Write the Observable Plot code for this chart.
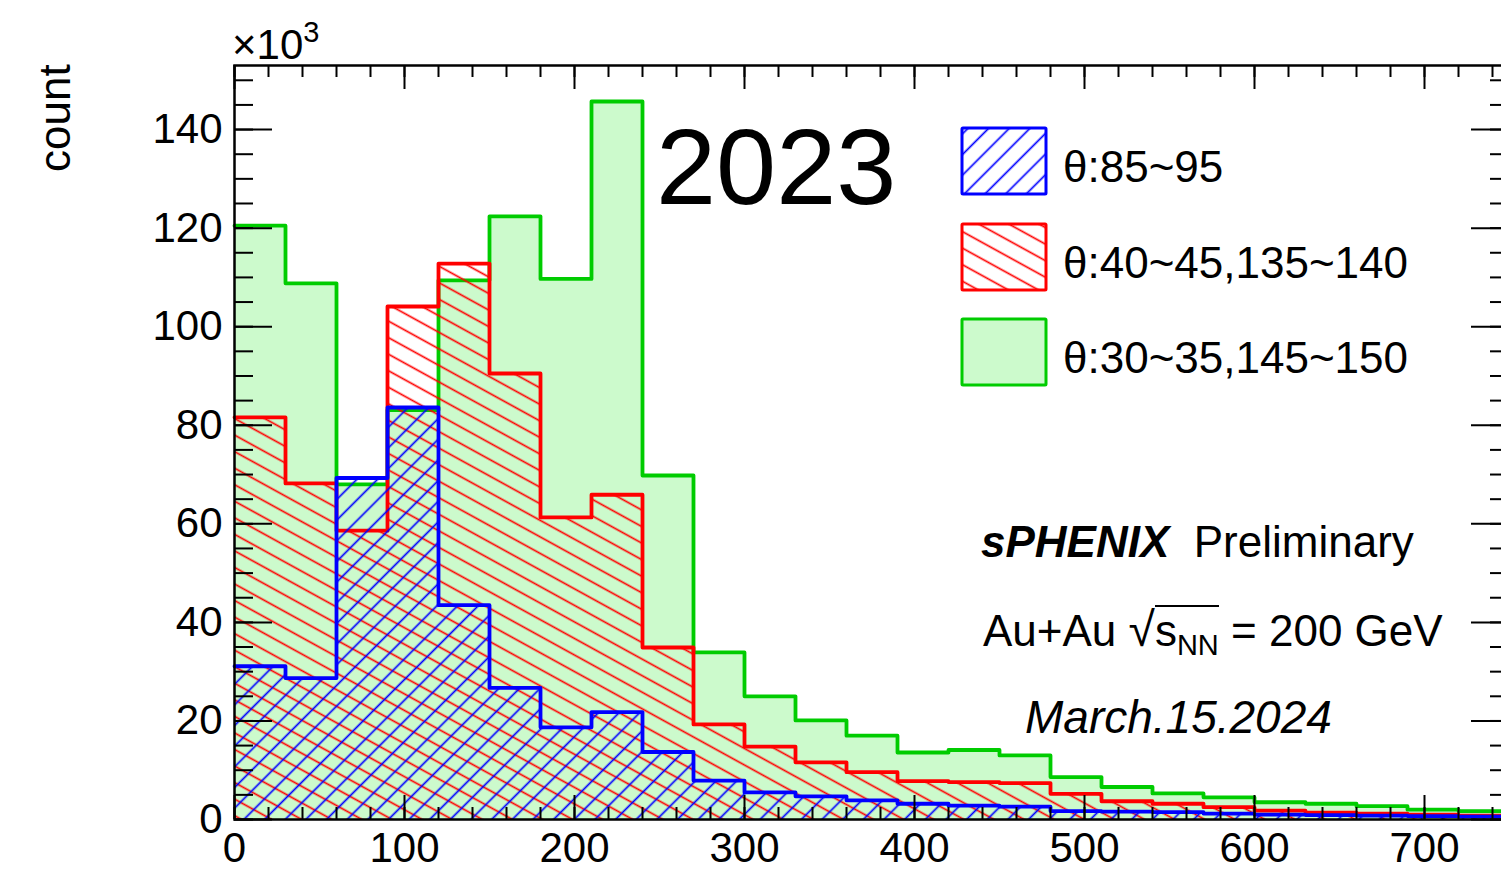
<!DOCTYPE html>
<html>
<head>
<meta charset="utf-8">
<script src="https://cdn.jsdelivr.net/npm/d3@7"></script>
<script src="https://cdn.jsdelivr.net/npm/@observablehq/plot@0.6"></script>
<style>
  html, body { margin: 0; padding: 0; background: #fff; overflow: hidden; }
  #wrap { position: relative; width: 1501px; height: 874px; overflow: hidden;
          font-family: "Liberation Sans", Arial, Helvetica, sans-serif; color: #000; }
  #wrap svg.plot { position: absolute; left: 0; top: 0; max-width: none !important; }
  .ann { position: absolute; white-space: nowrap; line-height: 1; }
  .sw { position: absolute; }
</style>
</head>
<body>
<div id="wrap"></div>
<script>
// Histogram bin edges (x) and counts per bin, in units of 10^3
const binEdges = [0, 30, 60, 90, 120, 150, 180, 210, 240, 270, 300, 330, 360,
                  390, 420, 450, 480, 510, 540, 570, 600, 630, 660, 690, 720, 750];

// θ:30~35,145~150
const countsGreen = [120.5, 108.8, 68.0, 83.1, 109.4, 122.4, 109.7, 145.7, 69.8, 33.9,
                     25.0, 20.1, 17.0, 13.6, 14.1, 13.0, 8.6, 6.6, 5.3, 4.5,
                     3.5, 3.2, 2.7, 2.0, 1.7];
// θ:40~45,135~140
const countsRed = [81.6, 68.2, 58.6, 104.1, 112.8, 90.5, 61.3, 65.9, 34.9, 19.3,
                   14.8, 11.6, 9.6, 7.8, 7.6, 7.4, 5.2, 3.7, 3.2, 2.5,
                   1.8, 1.4, 1.2, 1.0, 0.8];
// θ:85~95
const countsBlue = [31.1, 28.7, 69.3, 83.6, 43.5, 26.7, 18.7, 21.8, 13.7, 7.9,
                    5.5, 4.7, 3.9, 3.2, 2.8, 2.6, 1.7, 1.6, 1.5, 1.2,
                    1.0, 0.9, 0.8, 0.7, 0.6];

const seriesLabels = ["θ:85~95", "θ:40~45,135~140", "θ:30~35,145~150"];

// Axis ticks
const xMajor = [0, 100, 200, 300, 400, 500, 600, 700];
const xMinor = d3.range(0, 751, 20);
const yMajor = [0, 20, 40, 60, 80, 100, 120, 140];
const yMinor = d3.range(0, 153, 5);

// Colours
const GREEN_LINE = "#00cc00", GREEN_FILL = "#ccfacc";
const RED = "#ff0000", BLUE = "#0000ff";

// Layout
const W = 1520, H = 874, mL = 234, mR = 11, mT = 65, mB = 55;
const innerW = W - mL - mR, innerH = H - mT - mB;
const FONT = '"Liberation Sans", Arial, Helvetica, sans-serif';

const bars = (vals) => vals.map((v, i) => ({x1: binEdges[i], x2: binEdges[i + 1], v}));
const outline = (vals) => binEdges.map((e, i) => ({x: e, v: vals[Math.min(i, vals.length - 1)]}));

const tickStyle = {stroke: "#000", strokeWidth: 2};

const chart = Plot.plot({
  width: W, height: H,
  marginLeft: mL, marginRight: mR, marginTop: mT, marginBottom: mB,
  style: {fontFamily: FONT, background: "transparent", color: "#000", maxWidth: "none"},
  x: {domain: [0, 750]},
  y: {domain: [0, 153]},
  marks: [
    // θ:30~35,145~150 — solid light-green fill
    Plot.rectY(bars(countsGreen), {x1: "x1", x2: "x2", y: "v", inset: 0, fill: GREEN_FILL}),
    Plot.line(outline(countsGreen), {x: "x", y: "v", curve: "step-after", stroke: GREEN_LINE, strokeWidth: 3.8}),
    // θ:40~45,135~140 — red "\" hatch
    Plot.rectY(bars(countsRed), {x1: "x1", x2: "x2", y: "v", inset: 0, fill: "url(#hatchRed)"}),
    Plot.line(outline(countsRed), {x: "x", y: "v", curve: "step-after", stroke: RED, strokeWidth: 3.8}),
    // θ:85~95 — blue "/" hatch
    Plot.rectY(bars(countsBlue), {x1: "x1", x2: "x2", y: "v", inset: 0, fill: "url(#hatchBlue)"}),
    Plot.line(outline(countsBlue), {x: "x", y: "v", curve: "step-after", stroke: BLUE, strokeWidth: 3.8}),

    // Inward ticks on all four sides
    Plot.tickX(xMajor, {x: d => d, insetTop: innerH - 24, ...tickStyle}),
    Plot.tickX(xMinor, {x: d => d, insetTop: innerH - 12, ...tickStyle}),
    Plot.tickX(xMajor, {x: d => d, insetBottom: innerH - 24, ...tickStyle}),
    Plot.tickX(xMinor, {x: d => d, insetBottom: innerH - 12, ...tickStyle}),
    Plot.tickY(yMajor, {y: d => d, insetRight: innerW - 38, ...tickStyle}),
    Plot.tickY(yMinor, {y: d => d, insetRight: innerW - 19, ...tickStyle}),
    Plot.tickY(yMajor, {y: d => d, insetLeft: innerW - 38, ...tickStyle}),
    Plot.tickY(yMinor, {y: d => d, insetLeft: innerW - 19, ...tickStyle}),

    Plot.frame({stroke: "#000", strokeWidth: 2.5}),

    Plot.axisX({ticks: xMajor, tickSize: 0, tickPadding: 13, fontSize: 42, tickFormat: d => String(d), label: null}),
    Plot.axisY({ticks: yMajor, tickSize: 0, tickPadding: 12, fontSize: 42, tickFormat: d => String(d), label: null})
  ]
});

// Hatch patterns used by the histogram fills and the legend swatches
const defs = `
<defs>
  <pattern id="hatchBlue" patternUnits="userSpaceOnUse" width="14.6" height="14.6" patternTransform="rotate(45)">
    <line x1="7.3" y1="-1" x2="7.3" y2="15.6" stroke="${BLUE}" stroke-width="1.7"/>
  </pattern>
  <pattern id="hatchRed" patternUnits="userSpaceOnUse" width="14.5" height="14.5" patternTransform="rotate(28.8)">
    <line x1="-1" y1="7.25" x2="15.5" y2="7.25" stroke="${RED}" stroke-width="1.7"/>
  </pattern>
</defs>`;
chart.insertAdjacentHTML("afterbegin", defs);
chart.classList.add("plot");
chart.style.maxWidth = "none";
chart.setAttribute("width", W);
chart.setAttribute("height", H);

const wrap = document.getElementById("wrap");
wrap.appendChild(chart);

// Text annotations and legend
function ann(html, style) {
  const d = document.createElement("div");
  d.className = "ann";
  d.innerHTML = html;
  Object.assign(d.style, style);
  wrap.appendChild(d);
  return d;
}

// y-axis title, rotated
ann("count", {left: "33px", top: "172px", fontSize: "44px", transformOrigin: "0 0", transform: "rotate(-90deg)"});
// axis multiplier
ann('×10<span style="font-size:29px;position:relative;top:-17px;">3</span>', {left: "232px", top: "24px", fontSize: "42px"});
// year
ann("2023", {left: "656px", top: "113px", fontSize: "108px"});

// Legend
const legendRows = [
  {label: seriesLabels[0], fill: "url(#hatchBlue)", stroke: BLUE, top: 127},
  {label: seriesLabels[1], fill: "url(#hatchRed)", stroke: RED, top: 223},
  {label: seriesLabels[2], fill: GREEN_FILL, stroke: GREEN_LINE, top: 318}
];
for (const r of legendRows) {
  const sw = document.createElementNS("http://www.w3.org/2000/svg", "svg");
  sw.setAttribute("class", "sw");
  sw.setAttribute("width", "88");
  sw.setAttribute("height", "70");
  sw.style.left = "960px";
  sw.style.top = (r.top - 1) + "px";
  sw.innerHTML = `<rect x="2" y="2" width="84" height="66" fill="${r.fill}" stroke="${r.stroke}" stroke-width="3" rx="1"/>`;
  wrap.appendChild(sw);
  ann(r.label, {left: "1063px", top: (r.top + 18) + "px", fontSize: "44px"});
}

// Experiment labels
ann('<b><i>sPHENIX</i></b>&nbsp; Preliminary', {left: "981px", top: "520px", fontSize: "44px"});
ann('Au+Au <span style="font-size:48px;">√</span><span style="display:inline-block;border-top:2.5px solid #000;line-height:1;padding-top:2px;">s<sub style="font-size:29px;vertical-align:-9px;">NN</sub></span> = 200 GeV',
    {left: "983px", top: "605px", fontSize: "44px"});
ann('<i>March.15.2024</i>', {left: "1025px", top: "694px", fontSize: "46px"});
</script>
</body>
</html>
